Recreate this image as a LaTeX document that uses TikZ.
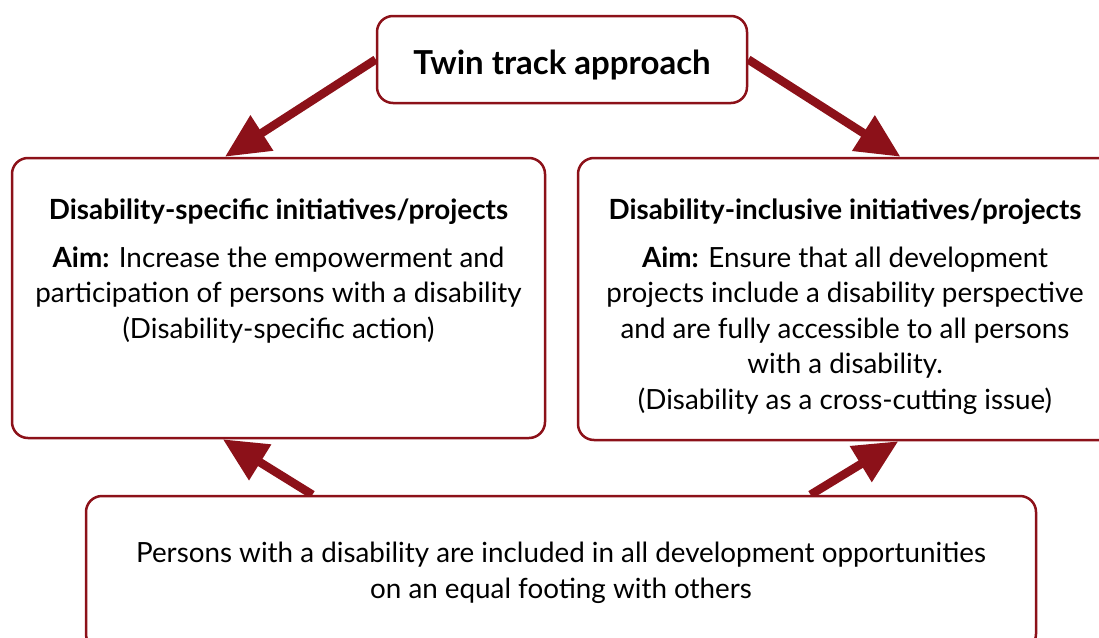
\documentclass[tikz,border=0pt]{standalone}
\usepackage{fontspec}
\setmainfont{Lato}
\usetikzlibrary{arrows.meta,positioning,calc,backgrounds}

\definecolor{boxred}{RGB}{140,17,25}

\tikzset{
  roundbox/.style={draw=boxred, line width=2.5pt, rounded corners=16pt, fill=white},
  bigarrow/.style={draw=boxred, line width=8.5pt, -{Triangle[length=44pt,width=40pt]}},
  boxtext/.style={align=center, inner sep=0pt, font=\fontsize{27.8}{35.5}\selectfont}
}

\begin{document}
\begin{tikzpicture}[x=1pt,y=-1pt]
    \useasboundingbox (0,0) rectangle (1099,637);

    % Draw the four boxes
    \node[roundbox, minimum width=370pt, minimum height=87pt, text height=36pt, text depth=7pt,
          font=\fontsize{33}{40}\selectfont\bfseries] (twin) at (562,59.5) {Twin track approach};
    \node[roundbox, minimum width=533pt, minimum height=280pt] (specific) at (278.5,298) {};
    \node[roundbox, minimum width=537pt, minimum height=282pt] (inclusive) at (846.5,299) {};
    \node[roundbox, boxtext, minimum width=950pt, minimum height=154pt] (persons) at (561,573)
        {Persons with a disability are included in all development opportunities\\
         on an equal footing with others};

    % Texts of the two tracks
    \node[boxtext, below=42pt of specific.north] (specifictext)
        {\textbf{Disability-specific initiatives/projects}\\[12pt]
         \textbf{Aim:} Increase the empowerment and\\
         participation of persons with a disability\\
         (Disability-specific action)};
    \node[boxtext, below=42pt of inclusive.north, xshift=-1.5pt] (inclusivetext)
        {\textbf{Disability-inclusive initiatives/projects}\\[12pt]
         \textbf{Aim:} Ensure that all development\\
         projects include a disability perspective\\
         and are fully accessible to all persons\\
         with a disability.\\
         (Disability as a cross-cutting issue)};

    % Points where the arrows meet the boxes
    \coordinate (specifictop) at ($(specific.north west)!0.40!(specific.north east)$);
    \coordinate (inclusivetop) at ($(inclusive.north west)!0.60!(inclusive.north east)$);
    \coordinate (specificbottom) at ($(specific.south west)!0.396!(specific.south east)$);
    \coordinate (inclusivebottom) at ($(inclusive.south west)!0.596!(inclusive.south east)$);
    \coordinate (personsleft) at ($(persons.north west)!0.239!(persons.north east)$);
    \coordinate (personsright) at ($(persons.north west)!0.762!(persons.north east)$);

    % Draw the arrows behind the boxes
    \begin{scope}[on background layer]
        \foreach \a/\b in {twin.west/specifictop, twin.east/inclusivetop,
                           personsleft/specificbottom, personsright/inclusivebottom} {
            \draw[bigarrow] (\a) -- (\b);
        }
    \end{scope}

\end{tikzpicture}
\end{document}
